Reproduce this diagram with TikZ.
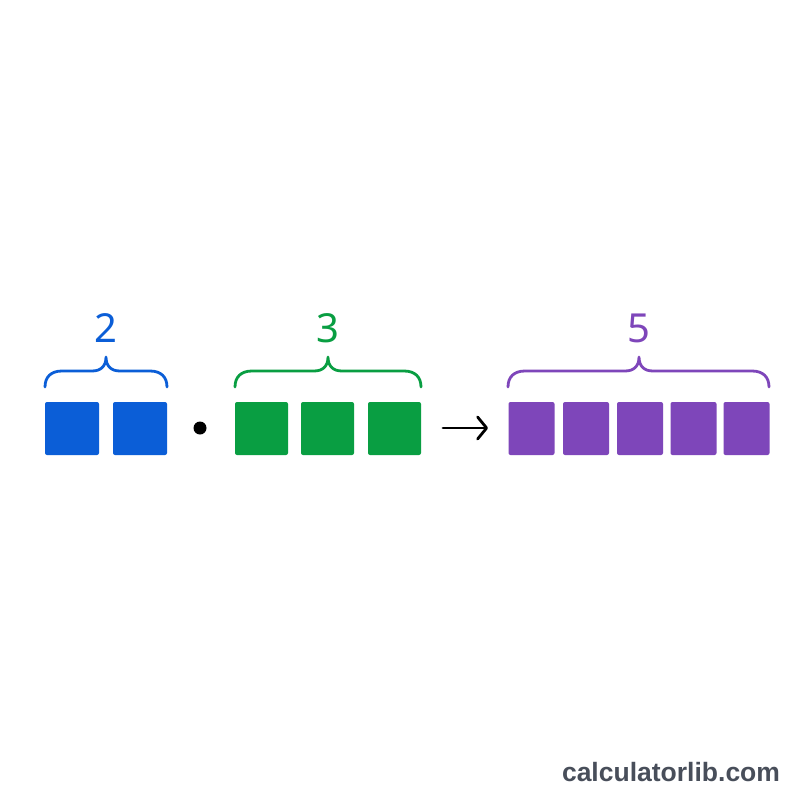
\documentclass[tikz,border=0pt]{standalone}
\usepackage{fontspec}
\setmainfont{Noto Sans}
\newfontfamily\webfont{Liberation Sans}
\usetikzlibrary{arrows.meta}
\definecolor{cblue}{RGB}{11,94,215}
\definecolor{cgreen}{RGB}{9,158,66}
\definecolor{cpurple}{RGB}{126,70,186}
\definecolor{cweb}{RGB}{72,78,90}
\tikzset{
  sq/.style={draw=none,fill=#1,rounded corners=2pt,inner sep=0pt,minimum height=53pt},
  bsq/.style={sq=cblue,minimum width=54pt},
  gsq/.style={sq=cgreen,minimum width=53pt},
  psq/.style={sq=cpurple,minimum width=46pt},
  bracepath/.style={draw=#1,line width=2.8pt,line cap=round,line join=round},
  digit/.style={text=#1,font=\fontsize{40}{40}\selectfont,inner sep=0pt},
}
\newcommand{\mybrace}[4]{% color, x1, x2, mid
  \path[bracepath=#1] (#2,387) .. controls (#2,377) and (#2+6,371) .. (#2+17,371) -- (#4-14,371)
    .. controls (#4-5,371) and (#4,366) .. (#4,357) .. controls (#4,366) and (#4+5,371) .. (#4+14,371)
    -- (#3-17,371) .. controls (#3-6,371) and (#3,377) .. (#3,387);}
\begin{document}
\begin{tikzpicture}[x=1pt,y=-1pt]
\useasboundingbox[fill=white] (0,0) rectangle (800,800);
% blue group
\node[bsq] (b1) at (72,428.5) {};
\node[bsq] (b2) at (140,428.5) {};
\mybrace{cblue}{45}{167}{106}
\node[digit=cblue] (n2) at (106,328) {2};
% dot
\node[circle,fill=black,inner sep=0pt,minimum size=13pt] (dot) at (200,428) {};
% green group
\node[gsq] (g1) at (261.5,428.5) {};
\node[gsq] (g2) at (327.5,428.5) {};
\node[gsq] (g3) at (394.5,428.5) {};
\mybrace{cgreen}{235}{421}{328}
\node[digit=cgreen] (n3) at (328,328) {3};
% arrow
\coordinate (a1) at (443,428);
\coordinate (a2) at (488,428);
\draw[line width=2.8pt,line cap=round,-{Straight Barb[length=9pt,width=22pt,line cap=round,line join=round]}] (a1) -- (a2);
% purple group
\node[psq] (p1) at (531.5,428.5) {};
\node[psq] (p2) at (586,428.5) {};
\node[psq] (p3) at (640,428.5) {};
\node[psq] (p4) at (693.5,428.5) {};
\node[psq] (p5) at (746.5,428.5) {};
\mybrace{cpurple}{508}{769}{639}
\node[digit=cpurple] (n5) at (639,328) {5};
% website
\node[text=cweb,font=\webfont\bfseries\fontsize{26.5}{26.5}\selectfont,inner sep=0pt] (web) at (671,772) {calculatorlib.com};
\end{tikzpicture}
\end{document}
